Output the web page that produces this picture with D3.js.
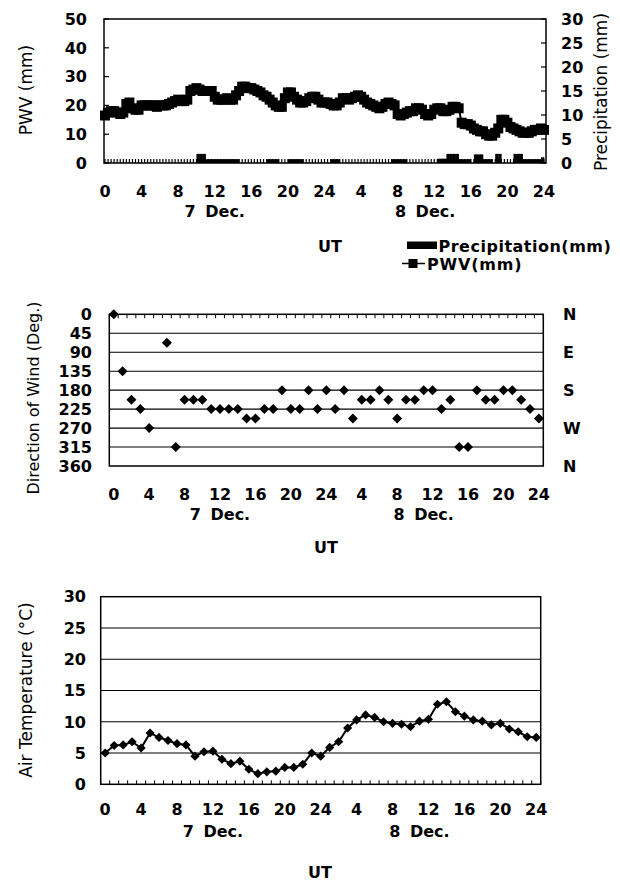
<!DOCTYPE html>
<html>
<head>
<meta charset="utf-8">
<script src="https://cdn.jsdelivr.net/npm/d3@7"></script>
<style>
  html, body { margin: 0; padding: 0; background: #fff; }
  svg { display: block; }
  text { font-family: "DejaVu Sans", sans-serif; fill: #000; }
  .tick-label { font-weight: bold; font-size: 16px; }
  .title { font-size: 17px; }
</style>
</head>
<body>
<svg id="chart" width="620" height="882"></svg>
<script>
// Hour tick labels shared by all three panels (two UT days)
const hourTicks = [0, 4, 8, 12, 16, 20, 24, 28, 32, 36, 40, 44, 48];
const hourLabels = ["0", "4", "8", "12", "16", "20", "24", "4", "8", "12", "16", "20", "24"];
const dayLabels = ["7 Dec.", "8 Dec."];
const dayLabelHours = [12, 35];

// Precipitable water vapour (mm), every 20 minutes from 7 Dec 00 UT to 9 Dec 00 UT
const pwv = [
  16.5, 17.5, 18,   18, 17.5, 17,     17.5, 20.5, 21,   19, 18.5, 18.5,
  20, 20, 20,       20, 20, 19.5,     20, 20, 20,       20.5, 21, 21.5,
  22, 21.5, 21.5,   22, 25, 25.5,     26, 25.5, 25,     25, 25, 25,
  23, 22, 22,       22, 22.5, 22,     22, 23.5, 25,     26.5, 26.5, 26,
  26, 25.5, 25,     24.5, 23.5, 23,   22, 21, 20,       19.5, 19.5, 22.5,
  24.5, 24.5, 23,   22, 21, 21,       21.5, 22.5, 23,   23, 22, 21,
  21, 21, 20.5,     20, 20, 21,       22.5, 22.5, 22,   22.5, 23, 23.5,
  23, 22, 21,       20.5, 20, 19.5,   19, 19.5, 20.5,   21, 20.5, 20,
  17, 16.5, 17,     17.5, 18, 18,     19, 19, 18.5,     17, 16.5, 17,
  18.5, 19, 19,     18, 18, 18.5,     19.5, 19.5, 19,   14, 13.5, 13.5,
  13, 12, 11.5,     11, 11, 10,       9.5, 9.5, 10.5,   12, 15, 15,
  14, 12.5, 12,     11.5, 11, 10.5,   10.5, 10.5, 11,   11.5, 11.5, 12,
  11.5
];

// Precipitation (mm) per 20-minute interval
const precipitation = [
  0, 0, 0,  0, 0, 0,  0, 0, 0,  0, 0, 0,  0, 0, 0,  0, 0, 0,
  0, 0, 0,  0, 0, 0,  0, 0, 0,  0, 0, 0,
  1.9, 1.9, 1.9,  0.8, 0.8, 0.8,  0.8, 0.8, 0.8,  0.8, 0.8, 0.8,  0.8, 0.8, 0,
  0, 0, 0,  0, 0, 0,  0, 0, 0.8,  0.8, 0.8, 0.8,  0, 0, 0,
  0.8, 0.8, 0.8,  0.8, 0.8, 0,  0, 0, 0,  0, 0, 0,
  0, 0, 0.8,  0.8, 0.8, 0,  0, 0, 0,  0, 0, 0,  0, 0, 0,  0, 0, 0,  0, 0, 0,
  0, 0.8, 0.8,  0.8, 0.8, 0.8,  0, 0, 0,  0, 0, 0,  0, 0, 0,
  0, 0.9, 0.9,  0.9, 1.9, 1.9,  1.9, 1.9, 0.8,  0.8, 0.8, 0.8,
  0, 1.8, 1.8,  1.8, 0.8, 0.8,  0.8, 0, 1.9,  1.9, 0, 0,
  0, 0, 1.9,  1.9, 1.9, 0.8,  0.8, 0.8, 0.8,  0.8, 0.8, 1.2
];

// Hourly wind direction (degrees); no reading at 05 UT on 7 Dec
const windDirection = [
  0, 135, 202.5, 225, 270, null, 67.5, 315, 202.5, 202.5, 202.5, 225,
  225, 225, 225, 247.5, 247.5, 225, 225, 180, 225, 225, 180, 225,
  180, 225, 180, 247.5, 202.5, 202.5, 180, 202.5, 247.5, 202.5, 202.5, 180,
  180, 225, 202.5, 315, 315, 180, 202.5, 202.5, 180, 180, 202.5, 225,
  247.5
];
const windTicks = [0, 45, 90, 135, 180, 225, 270, 315, 360];
const compassTicks = [0, 90, 180, 270, 360];
const compassLabels = ["N", "E", "S", "W", "N"];

// Hourly air temperature (°C)
const airTemperature = [
  5.0, 6.2, 6.3, 6.8, 5.8, 8.2, 7.5, 7.0, 6.5, 6.3, 4.5, 5.2,
  5.3, 4.0, 3.3, 3.7, 2.4, 1.7, 2.0, 2.1, 2.7, 2.7, 3.2, 5.0,
  4.5, 5.9, 6.8, 9.0, 10.3, 11.1, 10.7, 10.0, 9.75, 9.6, 9.2, 10.1,
  10.4, 12.8, 13.2, 11.6, 10.9, 10.3, 10.1, 9.5, 9.75, 8.85, 8.4, 7.6,
  7.5
];
const tempTicks = [0, 5, 10, 15, 20, 25, 30];
const pwvTicks = [0, 10, 20, 30, 40, 50];
const precipTicks = [0, 5, 10, 15, 20, 25, 30];

const svg = d3.select("#chart");
svg.append("rect").attr("width", 620).attr("height", 882).attr("fill", "#fff");

// Diamond marker as a d3 symbol type (square rotated 45°)
const diamond = {
  draw(ctx, size) {
    const r = Math.sqrt(size / 2);
    ctx.moveTo(0, -r); ctx.lineTo(r, 0); ctx.lineTo(0, r); ctx.lineTo(-r, 0); ctx.closePath();
  }
};

function hourAxisLabels(g, xOf, yTick, yDay, yUT, xUT) {
  g.selectAll(".hlab").data(hourTicks).join("text")
    .attr("class", "tick-label")
    .attr("x", (d) => xOf(d)).attr("y", yTick)
    .attr("text-anchor", "middle")
    .text((d, i) => hourLabels[i]);
  g.selectAll(".dlab").data(dayLabels).join("text")
    .attr("class", "tick-label")
    .attr("x", (d, i) => xOf(dayLabelHours[i])).attr("y", yDay)
    .attr("text-anchor", "middle")
    .style("word-spacing", "4px")
    .text((d) => d);
  g.append("text").attr("class", "tick-label")
    .attr("x", xUT).attr("y", yUT).attr("text-anchor", "middle").text("UT");
}

// ---------- Panel 1: PWV and precipitation ----------
{
  const g = svg.append("g");
  const L = 104, R = 546, T = 19, B = 163;
  const x = d3.scaleLinear().domain([0, 48]).range([L + 1, R - 2]);
  const yP = d3.scaleLinear().domain([0, 50]).range([B, T]);
  const yR = d3.scaleLinear().domain([0, 30]).range([B, T]);
  const step = 1 / 3;

  // precipitation bars
  g.selectAll(".bar").data(precipitation).join("rect")
    .attr("x", (d, i) => x(i * step))
    .attr("width", (d, i) => x((i + 1) * step) - x(i * step) + 0.3)
    .attr("y", (d) => yR(d))
    .attr("height", (d) => B - yR(d))
    .attr("fill", "#000");

  // inner tick marks along the time axis, every 20 minutes
  g.selectAll(".xt").data(d3.range(0, 145)).join("line")
    .attr("x1", (d) => x(d * step)).attr("x2", (d) => x(d * step))
    .attr("y1", B).attr("y2", B - 4)
    .attr("stroke", "#000").attr("stroke-width", 1.2);

  // frame
  g.append("rect").attr("x", L).attr("y", T).attr("width", R - L).attr("height", B - T)
    .attr("fill", "none").attr("stroke", "#000").attr("stroke-width", 1.5);

  // left/right axis ticks (inward)
  g.selectAll(".lt").data(pwvTicks).join("line")
    .attr("x1", L).attr("x2", L + 5).attr("y1", (d) => yP(d)).attr("y2", (d) => yP(d))
    .attr("stroke", "#000").attr("stroke-width", 1.2);
  g.selectAll(".rt").data(precipTicks).join("line")
    .attr("x1", R).attr("x2", R - 5).attr("y1", (d) => yR(d)).attr("y2", (d) => yR(d))
    .attr("stroke", "#000").attr("stroke-width", 1.2);

  // PWV series
  const line = d3.line().x((d, i) => x(i * step)).y((d) => yP(d));
  g.append("path").datum(pwv).attr("d", line)
    .attr("fill", "none").attr("stroke", "#000").attr("stroke-width", 2);
  g.selectAll(".pm").data(pwv).join("rect")
    .attr("x", (d, i) => x(i * step) - 5).attr("y", (d) => yP(d) - 5)
    .attr("width", 10).attr("height", 10).attr("fill", "#000");

  // axis labels
  g.selectAll(".ll").data(pwvTicks).join("text").attr("class", "tick-label")
    .attr("x", 87).attr("y", (d) => yP(d)).attr("dy", "0.36em")
    .attr("text-anchor", "end").text((d) => d);
  g.selectAll(".rl").data(precipTicks).join("text").attr("class", "tick-label")
    .attr("x", 561).attr("y", (d) => yR(d)).attr("dy", "0.36em")
    .attr("text-anchor", "start").text((d) => d);

  g.append("text").attr("class", "title")
    .attr("transform", "translate(32,90) rotate(-90)")
    .attr("text-anchor", "middle").text("PWV (mm)");
  g.append("text").attr("class", "title")
    .attr("transform", "translate(607,92) rotate(-90)")
    .attr("text-anchor", "middle").text("Precipitation (mm)");

  hourAxisLabels(g, x, 197, 217, 251.5, 330);

  // legend
  const lg = g.append("g");
  lg.append("rect").attr("x", 407).attr("y", 241.5).attr("width", 30).attr("height", 7.5).attr("fill", "#000");
  lg.append("text").attr("class", "tick-label").style("letter-spacing", "0.5px")
    .attr("x", 438.5).attr("y", 252).text("Precipitation(mm)");
  lg.append("line").attr("x1", 402).attr("x2", 425).attr("y1", 263.5).attr("y2", 263.5)
    .attr("stroke", "#000").attr("stroke-width", 1.5);
  lg.append("rect").attr("x", 408.5).attr("y", 259).attr("width", 9).attr("height", 9).attr("fill", "#000");
  lg.append("text").attr("class", "tick-label").style("letter-spacing", "0.8px")
    .attr("x", 427).attr("y", 269.5).text("PWV(mm)");
}

// ---------- Panel 2: wind direction ----------
{
  const g = svg.append("g");
  const L = 109.3, R = 543.3, T = 314.3, B = 466;
  const x = d3.scaleBand().domain(d3.range(windDirection.length)).range([L, R]);
  const xh = (h) => x(h) + x.bandwidth() / 2;
  const y = d3.scaleLinear().domain([0, 360]).range([T, B]);

  g.selectAll(".grid").data(windTicks.slice(1, -1)).join("line")
    .attr("x1", L).attr("x2", R).attr("y1", (d) => y(d)).attr("y2", (d) => y(d))
    .attr("stroke", "#000").attr("stroke-width", 1.1);

  g.selectAll(".xt").data(d3.range(0, windDirection.length + 1)).join("line")
    .attr("x1", (d) => L + d * x.step()).attr("x2", (d) => L + d * x.step())
    .attr("y1", T).attr("y2", T + 4)
    .attr("stroke", "#000").attr("stroke-width", 1);

  g.append("rect").attr("x", L).attr("y", T).attr("width", R - L).attr("height", B - T)
    .attr("fill", "none").attr("stroke", "#000").attr("stroke-width", 1.5);

  const sym = d3.symbol().type(diamond).size(50);
  g.selectAll(".wm").data(windDirection.map((v, i) => ({ h: i, v })).filter((d) => d.v !== null))
    .join("path")
    .attr("transform", (d) => `translate(${xh(d.h)},${y(d.v)})`)
    .attr("d", sym).attr("fill", "#000");

  g.selectAll(".ll").data(windTicks).join("text").attr("class", "tick-label")
    .attr("x", 92).attr("y", (d) => y(d)).attr("dy", "0.36em")
    .attr("text-anchor", "end").text((d) => d);
  g.selectAll(".cl").data(compassTicks).join("text").attr("class", "tick-label")
    .attr("x", 563).attr("y", (d) => y(d)).attr("dy", "0.36em")
    .attr("text-anchor", "start").text((d, i) => compassLabels[i]);

  g.append("text").attr("class", "title").style("font-size", "16px")
    .attr("transform", "translate(39,398) rotate(-90)")
    .attr("text-anchor", "middle").text("Direction of Wind (Deg.)");

  hourAxisLabels(g, xh, 499.5, 520, 552.5, 326);
}

// ---------- Panel 3: air temperature ----------
{
  const g = svg.append("g");
  const L = 100.7, R = 540.7, T = 596.7, B = 784.3;
  const x = d3.scaleBand().domain(d3.range(airTemperature.length)).range([L, R]);
  const xh = (h) => x(h) + x.bandwidth() / 2;
  const y = d3.scaleLinear().domain([0, 30]).range([B, T]);

  g.selectAll(".grid").data(tempTicks.slice(1, -1)).join("line")
    .attr("x1", L).attr("x2", R).attr("y1", (d) => y(d)).attr("y2", (d) => y(d))
    .attr("stroke", "#000").attr("stroke-width", 1.1);

  g.selectAll(".xt").data(d3.range(0, airTemperature.length + 1)).join("line")
    .attr("x1", (d) => L + d * x.step()).attr("x2", (d) => L + d * x.step())
    .attr("y1", B).attr("y2", B - 4)
    .attr("stroke", "#000").attr("stroke-width", 1);

  g.append("rect").attr("x", L).attr("y", T).attr("width", R - L).attr("height", B - T)
    .attr("fill", "none").attr("stroke", "#000").attr("stroke-width", 1.5);

  const line = d3.line().x((d, i) => xh(i)).y((d) => y(d));
  g.append("path").datum(airTemperature).attr("d", line)
    .attr("fill", "none").attr("stroke", "#000").attr("stroke-width", 2);
  const sym = d3.symbol().type(diamond).size(42);
  g.selectAll(".tm").data(airTemperature).join("path")
    .attr("transform", (d, i) => `translate(${xh(i)},${y(d)})`)
    .attr("d", sym).attr("fill", "#000");

  g.selectAll(".ll").data(tempTicks).join("text").attr("class", "tick-label")
    .attr("x", 86).attr("y", (d) => y(d)).attr("dy", "0.36em")
    .attr("text-anchor", "end").text((d) => d);

  g.append("text").attr("class", "title")
    .attr("transform", "translate(32,690) rotate(-90)")
    .attr("text-anchor", "middle").text("Air Temperature (°C)");

  hourAxisLabels(g, xh, 814.5, 837, 877.5, 320);
}
</script>
</body>
</html>
